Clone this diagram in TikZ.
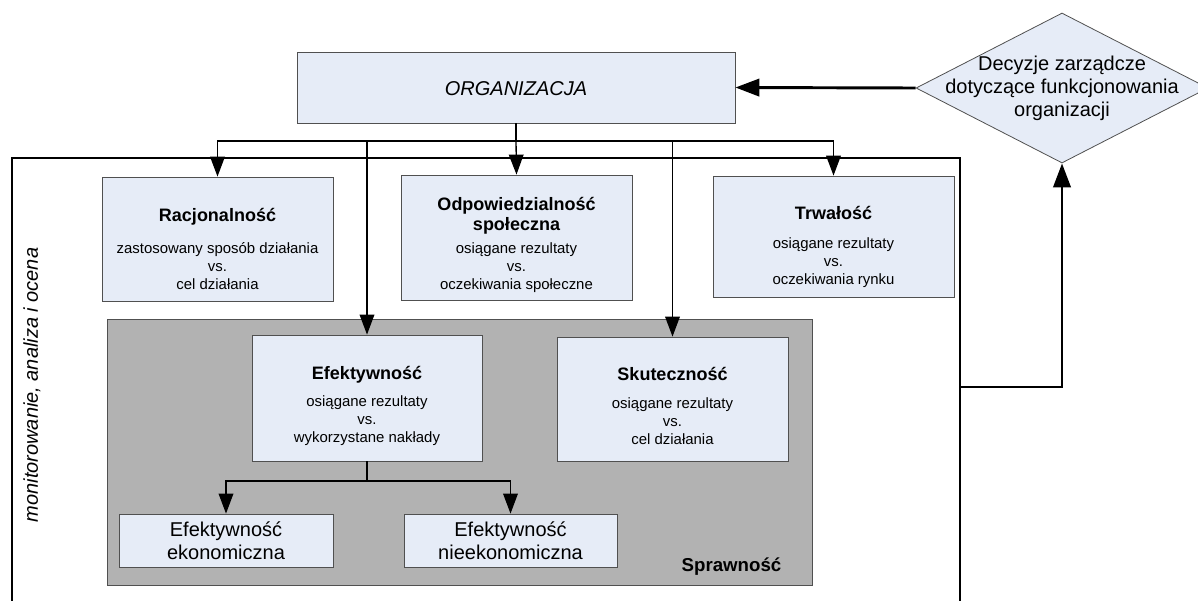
\documentclass[tikz,border=0pt]{standalone}
\usepackage{fontspec}
\setmainfont{Liberation Sans}
\usetikzlibrary{arrows.meta,shapes.geometric}
\definecolor{boxblue}{RGB}{230,236,247}
\definecolor{sprgrey}{RGB}{178,178,178}
\definecolor{edgegrey}{RGB}{80,80,80}

\begin{document}
\begin{tikzpicture}[x=0.75pt,y=0.75pt,yscale=-1,xscale=1,
  box/.style={draw=edgegrey,fill=boxblue,line width=0.6pt,inner sep=0pt},
  crit/.style={align=center,inner sep=0pt,font=\fontsize{11.2}{13.5}\selectfont},
  big/.style={align=center,inner sep=0pt,font=\fontsize{15}{17.25}\selectfont},
  conn/.style={line width=1pt,-{Triangle[length=15pt,width=11pt]}},
  thickconn/.style={line width=2.2pt,-{Triangle[length=18pt,width=13pt]}},
  decision/.style={diamond,draw=edgegrey,fill=boxblue,line width=0.6pt,inner sep=0pt,minimum width=219pt,minimum height=112.5pt}]
    \useasboundingbox (0,0) rectangle (1198,600);

    %Shape: Rectangle [Sprawnosc]
    \node [draw=edgegrey,fill=sprgrey,line width=0.6pt,minimum width=528.75pt,minimum height=199.5pt] (spr) at (459.5,452) {};
    %Straight Lines [frame]
    \draw [line width=2.2pt] (12,602) -- (12,158) -- (960,158) -- (960,602) ;

    %Shape: Rectangle
    \node [box,minimum width=328.5pt,minimum height=53.25pt] (org) at (516,87.5) {};
    %Shape: Rectangle
    \node [box,minimum width=173.25pt,minimum height=93pt] (rac) at (217.5,239) {};
    %Shape: Rectangle
    \node [box,minimum width=173.25pt,minimum height=93.75pt] (odp) at (516.5,237.5) {};
    %Shape: Rectangle
    \node [box,minimum width=180.75pt,minimum height=90.75pt] (trw) at (833.5,236.5) {};
    %Shape: Rectangle
    \node [box,minimum width=172.5pt,minimum height=94.5pt] (eff) at (367,398) {};
    %Shape: Rectangle
    \node [box,minimum width=173.25pt,minimum height=93pt] (sku) at (672.5,399) {};
    %Shape: Rectangle
    \node [box,minimum width=160.5pt,minimum height=39.75pt] (eko) at (226,540.5) {};
    %Shape: Rectangle
    \node [box,minimum width=159.75pt,minimum height=39.75pt] (nie) at (510.5,540.5) {};
    %Shape: Diamond
    \node [decision] (dec) at (1062,88) {};

    % Text Node
    \node [big,font=\fontsize{15}{17.25}\selectfont\itshape] (orgtxt) at (516,89) {ORGANIZACJA};
    % Text Node
    \node [crit] (ractxt) at (217.5,249) {{\fontsize{13.5}{16}\selectfont\bfseries Racjonalność}\\[11pt]zastosowany sposób działania\\vs.\\cel działania};
    % Text Node
    \node [crit] (odptxt) at (516.5,245) {{\fontsize{13.5}{16}\selectfont\bfseries Odpowiedzialność}\\[1.5pt]{\fontsize{13.5}{16}\selectfont\bfseries społeczna}\\[4pt]osiągane rezultaty\\vs.\\oczekiwania społeczne};
    % Text Node
    \node [crit] (trwtxt) at (833.5,247) {{\fontsize{13.5}{16}\selectfont\bfseries Trwałość}\\[8pt]osiągane rezultaty\\vs.\\oczekiwania rynku};
    % Text Node
    \node [crit] (efftxt) at (367,406) {{\fontsize{13.5}{16}\selectfont\bfseries Efektywność}\\[7pt]osiągane rezultaty\\vs.\\wykorzystane nakłady};
    % Text Node
    \node [crit] (skutxt) at (672.5,406) {{\fontsize{13.5}{16}\selectfont\bfseries Skuteczność}\\[7.5pt]osiągane rezultaty\\vs.\\cel działania};
    % Text Node
    \node [big] (ekotxt) at (226,541) {Efektywność\\ekonomiczna};
    % Text Node
    \node [big] (nietxt) at (510.5,541) {Efektywność\\nieekonomiczna};
    % Text Node
    \node [big] (dectxt) at (1062,88) {Decyzje zarządcze\\dotyczące funkcjonowania\\organizacji};
    % Text Node
    \node [font=\fontsize{14}{16}\selectfont\bfseries] (sprtxt) at (731.5,567) {Sprawność};
    % Text Node
    \node [rotate=90,font=\fontsize{15}{17}\selectfont\itshape] (mon) at (32,385) {monitorowanie, analiza i ocena};

    \coordinate (bus) at (516,141);
    \coordinate (fork) at (367,481);
    \coordinate (out) at (960,387);

    %Straight Lines
    \draw [line width=1.8pt] (org.south) -- (bus) ;
    \draw [conn] (bus) -| (rac.north) ;
    \draw [conn] (bus) -- (odp.north) ;
    \draw [conn] (bus) -| (trw.north) ;
    \draw [conn] (bus) -| (eff.north) ;
    \draw [conn] (bus) -| (sku.north) ;
    \draw [line width=1.4pt] (eff.south) -- (fork) ;
    \draw [conn] (fork) -| (eko.north) ;
    \draw [conn] (fork) -| (nie.north) ;
    \draw [thickconn] (out) -| (dec.south) ;
    \draw [thickconn] (dec.west) -- (org.east) ;

\end{tikzpicture}
\end{document}
